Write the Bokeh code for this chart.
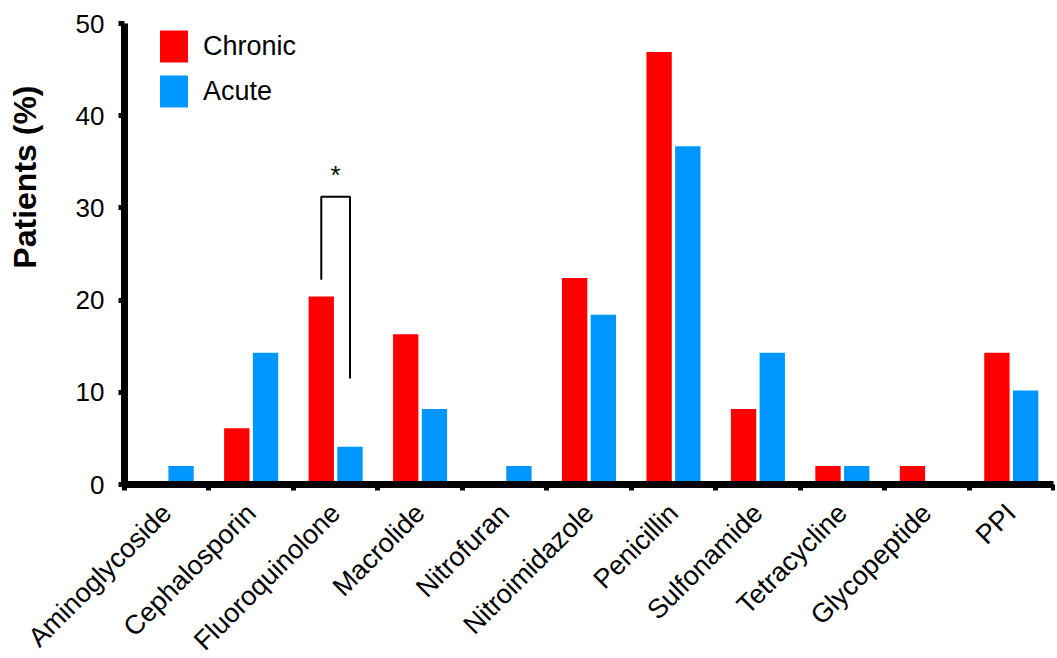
import math
from bokeh.plotting import figure
from bokeh.models import FixedTicker, Legend, LegendItem, Range1d, ColumnDataSource, Title
from bokeh.core.properties import value
from bokeh.embed import file_html
from bokeh.resources import INLINE

categories = ["Aminoglycoside", "Cephalosporin", "Fluoroquinolone", "Macrolide",
              "Nitrofuran", "Nitroimidazole", "Penicillin", "Sulfonamide",
              "Tetracycline", "Glycopeptide", "PPI"]
chronic = [0.0, 6.1, 20.4, 16.3, 0.0, 22.4, 46.9, 8.2, 2.0, 2.0, 14.3]
acute = [2.0, 14.3, 4.1, 8.2, 2.0, 18.4, 36.7, 14.3, 2.0, 0.0, 10.2]
y_ticks = [0, 10, 20, 30, 40, 50]

# significance bracket annotation (Fluoroquinolone)
sig_index = 2
sig_left_bottom = 22.2
sig_top = 31.2
sig_right_bottom = 11.5
sig_star_y = 33.6

FONT = "Liberation Sans"
RED = "#FF0000"
BLUE = "#0096FF"
W = 0.3
OFF = 0.17

centers = [i + 0.5 for i in range(len(categories))]
src = ColumnDataSource(data=dict(
    xc=[c - OFF for c in centers], xa=[c + OFF for c in centers],
    chronic=chronic, acute=acute))

p = figure(width=1055, height=680, output_backend="svg", toolbar_location=None,
           x_range=Range1d(0, len(categories)), y_range=Range1d(0, 50),
           min_border_left=124, min_border_right=2, min_border_top=23,
           min_border_bottom=196)
p.outline_line_color = None
p.xgrid.visible = False
p.ygrid.visible = False
p.background_fill_color = "white"

r_c = p.vbar(x="xc", top="chronic", width=W, source=src, fill_color=RED, line_color=None)
r_a = p.vbar(x="xa", top="acute", width=W, source=src, fill_color=BLUE, line_color=None)

# bracket
bx = sig_index + 0.5
p.line(x=[bx - OFF, bx - OFF, bx + OFF, bx + OFF],
       y=[sig_left_bottom, sig_top, sig_top, sig_right_bottom],
       line_color="black", line_width=2)
p.text(x=[bx], y=[sig_star_y], text=["*"], text_align="center", text_baseline="middle",
       text_font=value(FONT), text_font_size="26px", text_color="black")

# x axis
p.xaxis.ticker = FixedTicker(ticks=centers, minor_ticks=list(range(len(categories) + 1)))
p.xaxis.major_label_overrides = {c: lab for c, lab in zip(centers, categories)}
p.xaxis.major_tick_line_color = None
p.xaxis.minor_tick_line_color = "black"
p.xaxis.minor_tick_line_width = 5
p.xaxis.minor_tick_out = 6
p.xaxis.minor_tick_in = 0
p.xaxis.major_label_orientation = math.pi / 4
p.xaxis.major_label_standoff = 18
p.xaxis.major_label_text_font = FONT
p.xaxis.major_label_text_font_size = "27px"
p.xaxis.major_label_text_color = "black"
p.xaxis.axis_line_width = 7
p.xaxis.axis_line_color = "black"

# y axis
p.yaxis.ticker = FixedTicker(ticks=y_ticks)
p.yaxis.minor_tick_line_color = None
p.yaxis.major_tick_line_width = 5
p.yaxis.major_tick_out = 6
p.yaxis.major_tick_in = 0
p.yaxis.major_label_standoff = 14
p.yaxis.major_label_text_font = FONT
p.yaxis.major_label_text_font_size = "26px"
p.yaxis.major_label_text_color = "black"
p.yaxis.axis_line_width = 7
p.yaxis.axis_line_color = "black"
# blank axis label used only as spacing between tick labels and the title
p.yaxis.axis_label = "\u00a0"
p.yaxis.axis_label_text_font_size = "10px"
p.yaxis.axis_label_standoff = 12

ytitle = Title(text="Patients (%)", align="right", offset=62, vertical_align="bottom",
               standoff=8, text_font=FONT, text_font_size="32px",
               text_font_style="bold", text_color="black")
p.add_layout(ytitle, "left")

legend = Legend(items=[LegendItem(label="Chronic", renderers=[r_c]),
                       LegendItem(label="Acute", renderers=[r_a])],
                location=(32, 373))
legend.glyph_width = 35
legend.glyph_height = 40
legend.spacing = 5
legend.padding = 0
legend.margin = 0
legend.label_standoff = 12
legend.label_text_font = FONT
legend.label_text_font_size = "27px"
legend.label_text_color = "black"
legend.border_line_color = None
legend.background_fill_alpha = 0
p.add_layout(legend)

open("out.html", "w").write(file_html(p, INLINE))
